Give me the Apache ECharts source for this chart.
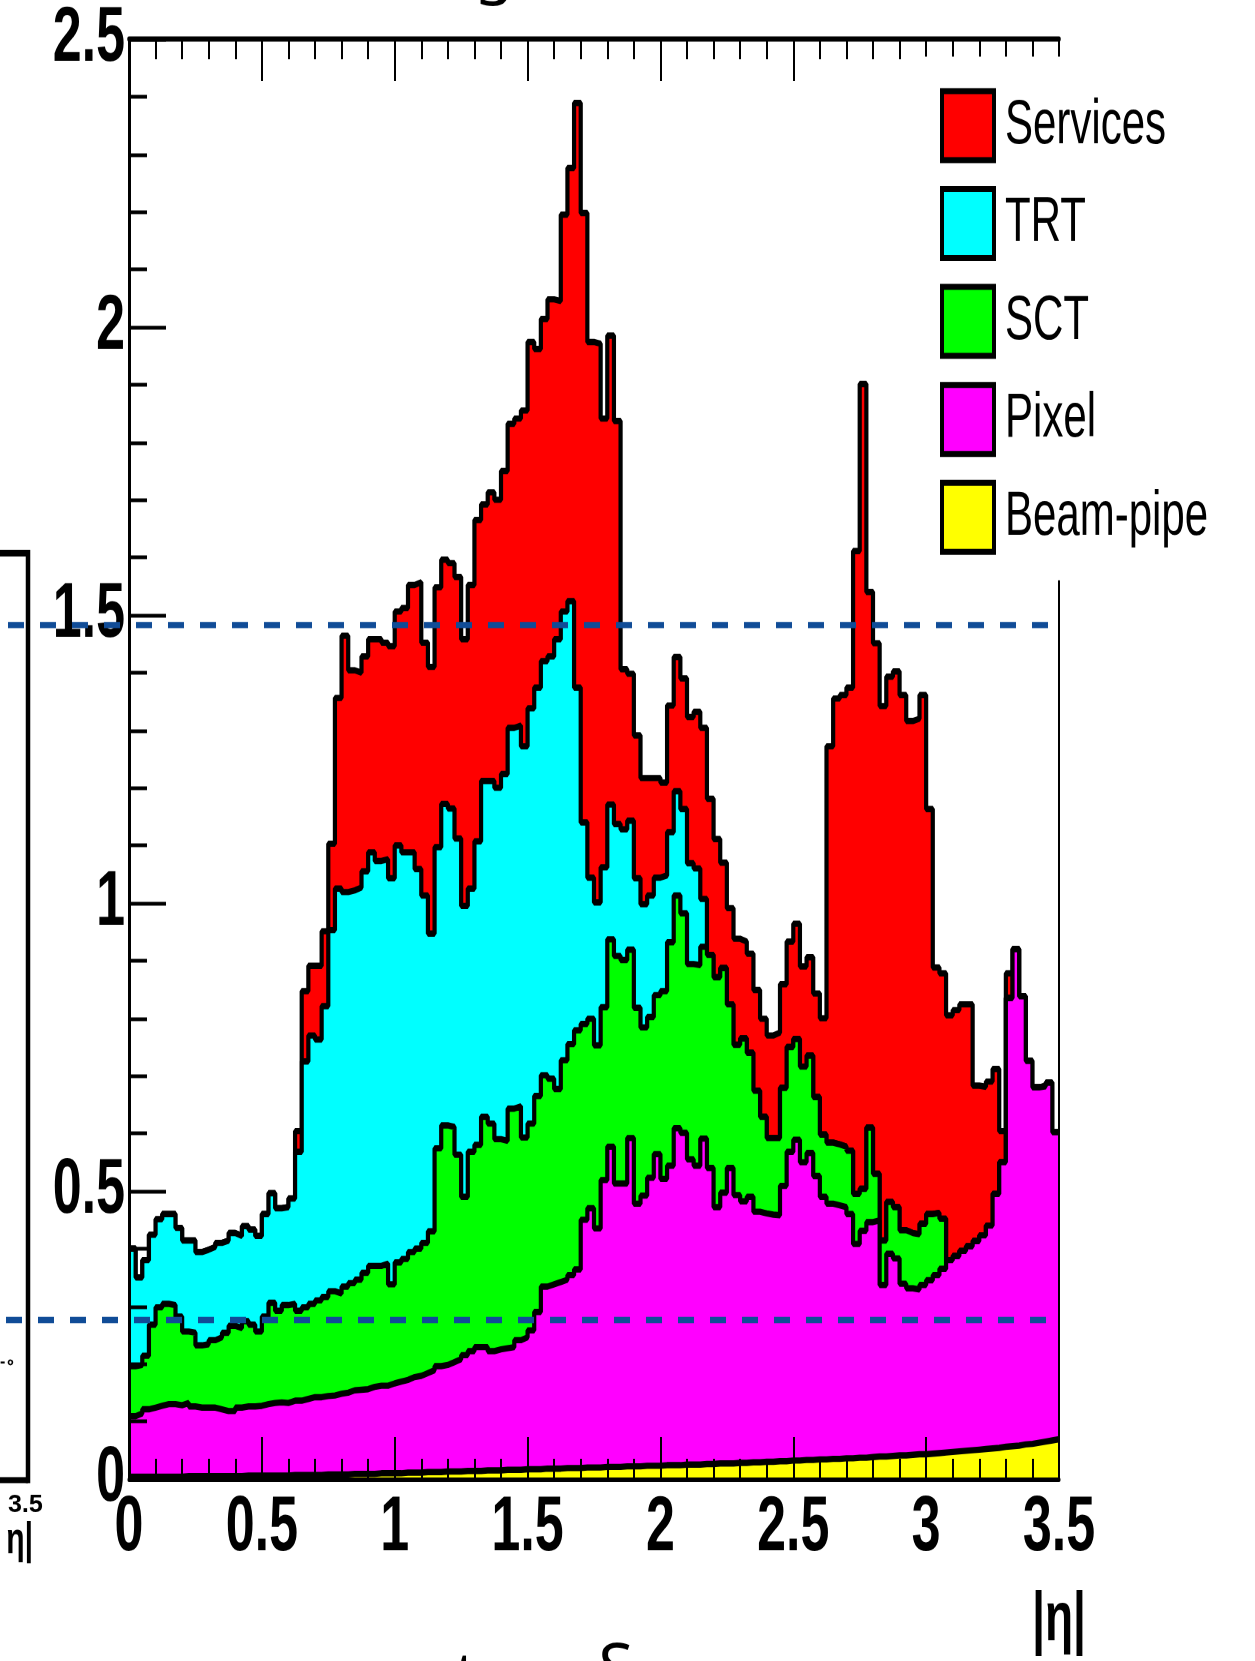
<!DOCTYPE html>
<html>
<head>
<meta charset="utf-8">
<script src="https://cdn.jsdelivr.net/npm/echarts@6/dist/echarts.min.js"></script>
<style>
html,body{margin:0;padding:0;background:#fff;overflow:hidden;width:1255px;height:1661px;}
#chart{width:1255px;height:1107.333px;transform:scaleY(1.5);transform-origin:0 0;}
</style>
</head>
<body>
<div id="chart"></div>
<script>
// ---- data (|eta| histogram, 140 bins of 0.025; each array = top edge of that band in the stacked plot) ----
const BIN_WIDTH = 0.025;
const xTickLabels = ['0','0.5','1','1.5','2','2.5','3','3.5'];
const yTickLabels = ['0','0.5','1','1.5','2','2.5'];
const legendNames = ['Services','TRT','SCT','Pixel','Beam-pipe'];

const servicesTop = [
 0.400,0.350,0.380,0.424,0.451,0.460,0.460,0.436,0.414,0.414,
 0.394,0.398,0.403,0.410,0.414,0.427,0.422,0.439,0.433,0.422,
 0.460,0.496,0.470,0.472,0.487,0.604,0.847,0.891,0.891,0.951,
 1.103,1.356,1.464,1.404,1.400,1.428,1.458,1.458,1.452,1.446,
 1.506,1.512,1.552,1.557,1.452,1.410,1.548,1.596,1.590,1.566,
 1.458,1.552,1.665,1.692,1.713,1.700,1.750,1.832,1.841,1.855,
 1.974,1.962,2.014,2.048,2.045,2.195,2.276,2.389,2.198,1.974,
 1.971,1.841,1.985,1.837,1.406,1.398,1.291,1.217,1.217,1.217,
 1.209,1.343,1.427,1.390,1.323,1.332,1.304,1.181,1.111,1.070,
 0.991,0.938,0.933,0.912,0.849,0.799,0.770,0.775,0.859,0.933,
 0.964,0.890,0.906,0.843,0.800,1.272,1.355,1.361,1.374,1.611,
 1.901,1.540,1.451,1.342,1.393,1.402,1.361,1.316,1.320,1.361,
 1.163,0.888,0.878,0.805,0.814,0.824,0.824,0.683,0.681,0.690,
 0.712,0.604,0.878,0.920,0.838,0.726,0.680,0.682,0.688,0.602
];
const trtTop = [
 0.400,0.350,0.380,0.424,0.451,0.460,0.460,0.436,0.414,0.414,
 0.394,0.398,0.403,0.410,0.414,0.427,0.422,0.439,0.433,0.422,
 0.460,0.496,0.470,0.472,0.487,0.568,0.725,0.770,0.763,0.821,
 0.953,1.025,1.019,1.022,1.027,1.055,1.088,1.073,1.076,1.043,
 1.100,1.088,1.088,1.059,1.013,0.947,1.097,1.172,1.164,1.112,
 0.995,1.025,1.107,1.212,1.212,1.200,1.224,1.304,1.308,1.272,
 1.338,1.374,1.420,1.428,1.458,1.506,1.524,1.374,1.140,1.044,
 1.001,1.062,1.171,1.137,1.128,1.143,1.043,0.998,1.013,1.044,
 1.048,1.123,1.194,1.163,1.069,1.060,1.007,0.910,0.871,0.887,
 0.824,0.754,0.765,0.740,0.674,0.629,0.592,0.592,0.679,0.750,
 0.764,0.716,0.735,0.663,0.598,0.584,0.581,0.577,0.570,0.495,
 0.504,0.610,0.530,0.414,0.481,0.472,0.432,0.427,0.425,0.443,
 0.460,0.462,0.452,0.380,0.387,0.396,0.404,0.413,0.423,0.440,
 0.495,0.550,0.835,0.920,0.838,0.726,0.680,0.682,0.688,0.602
];
const sctTop = [
 0.196,0.198,0.214,0.268,0.298,0.304,0.302,0.282,0.256,0.254,
 0.232,0.234,0.241,0.246,0.254,0.266,0.262,0.274,0.268,0.256,
 0.282,0.306,0.292,0.302,0.304,0.292,0.298,0.304,0.310,0.316,
 0.326,0.322,0.334,0.340,0.346,0.358,0.370,0.370,0.374,0.338,
 0.376,0.382,0.394,0.400,0.410,0.430,0.574,0.614,0.611,0.563,
 0.490,0.568,0.580,0.629,0.617,0.590,0.587,0.643,0.647,0.593,
 0.617,0.665,0.701,0.695,0.677,0.727,0.755,0.779,0.790,0.799,
 0.753,0.819,0.937,0.908,0.901,0.919,0.818,0.784,0.802,0.840,
 0.847,0.932,1.013,0.982,0.894,0.892,0.924,0.910,0.871,0.887,
 0.824,0.754,0.765,0.740,0.674,0.629,0.592,0.592,0.679,0.750,
 0.764,0.716,0.735,0.663,0.598,0.584,0.581,0.577,0.570,0.495,
 0.504,0.610,0.530,0.414,0.481,0.472,0.432,0.427,0.425,0.443,
 0.460,0.462,0.452,0.380,0.387,0.396,0.404,0.413,0.423,0.440,
 0.495,0.550,0.835,0.920,0.838,0.726,0.680,0.682,0.688,0.602
];
const pixelTop = [
 0.109,0.114,0.121,0.124,0.127,0.130,0.130,0.128,0.132,0.126,
 0.124,0.124,0.124,0.121,0.118,0.118,0.124,0.126,0.126,0.127,
 0.130,0.132,0.133,0.132,0.136,0.136,0.139,0.142,0.142,0.144,
 0.145,0.148,0.150,0.154,0.155,0.156,0.160,0.162,0.162,0.166,
 0.169,0.172,0.177,0.179,0.184,0.189,0.196,0.198,0.203,0.208,
 0.215,0.222,0.229,0.229,0.222,0.225,0.227,0.229,0.241,0.246,
 0.258,0.290,0.334,0.338,0.342,0.346,0.354,0.364,0.450,0.470,
 0.435,0.519,0.577,0.513,0.513,0.592,0.478,0.492,0.523,0.564,
 0.521,0.544,0.609,0.601,0.555,0.544,0.591,0.540,0.472,0.497,
 0.540,0.493,0.482,0.490,0.464,0.461,0.459,0.458,0.509,0.568,
 0.589,0.550,0.566,0.526,0.490,0.478,0.475,0.472,0.460,0.408,
 0.431,0.446,0.449,0.337,0.391,0.383,0.339,0.331,0.329,0.337,
 0.345,0.354,0.365,0.380,0.387,0.396,0.404,0.413,0.423,0.440,
 0.495,0.550,0.835,0.920,0.838,0.726,0.680,0.682,0.688,0.602
];
const beamPipeTop = [
 0.004,0.004,0.004,0.004,0.004,0.004,0.004,0.004,0.005,0.005,
 0.005,0.005,0.005,0.005,0.005,0.005,0.005,0.006,0.006,0.006,
 0.006,0.006,0.006,0.006,0.007,0.007,0.007,0.007,0.007,0.008,
 0.008,0.008,0.008,0.009,0.009,0.009,0.009,0.010,0.010,0.010,
 0.010,0.011,0.011,0.011,0.012,0.012,0.012,0.013,0.013,0.013,
 0.014,0.014,0.014,0.015,0.015,0.015,0.016,0.016,0.016,0.017,
 0.017,0.017,0.018,0.018,0.018,0.019,0.019,0.019,0.020,0.020,
 0.020,0.021,0.021,0.021,0.022,0.022,0.022,0.023,0.023,0.023,
 0.024,0.024,0.024,0.025,0.025,0.025,0.026,0.026,0.027,0.027,
 0.027,0.028,0.028,0.029,0.029,0.030,0.030,0.031,0.031,0.032,
 0.032,0.033,0.033,0.034,0.034,0.035,0.035,0.036,0.036,0.037,
 0.037,0.038,0.039,0.039,0.040,0.041,0.041,0.042,0.043,0.043,
 0.044,0.045,0.046,0.047,0.048,0.049,0.050,0.051,0.052,0.053,
 0.054,0.056,0.057,0.058,0.060,0.061,0.063,0.065,0.067,0.069
];

// ---- styling ----
const FONT = '"Liberation Sans", Arial, Helvetica, sans-serif';
const S = 1.5; // vertical stretch of the whole figure (container is CSS-scaled)
const fills = {Services:'#ff0000', TRT:'#00ffff', SCT:'#00ff00', Pixel:'#ff00ff', 'Beam-pipe':'#ffff00'};

function toSteps(vals) {
  const pts = vals.map((v, i) => [+(i * BIN_WIDTH).toFixed(4), v]);
  pts.push([+(vals.length * BIN_WIDTH).toFixed(4), vals[vals.length - 1]]);
  return pts;
}
function band(name, vals, z) {
  return {
    name, type: 'line', step: 'end', data: toSteps(vals),
    symbol: 'none', showSymbol: false, z, silent: true, animation: false,
    itemStyle: {color: fills[name]},
    lineStyle: {color: '#000', width: 4.2},
    areaStyle: {color: fills[name], opacity: 1, origin: 'start'},
    emphasis: {disabled: true}
  };
}

const chart = echarts.init(document.getElementById('chart'), null, {renderer: 'canvas', devicePixelRatio: 2});
const dashStyle = {stroke: '#104c97', lineWidth: 4.2, lineDash: [16, 16]};

chart.setOption({
  animation: false,
  backgroundColor: '#fff',
  grid: {left: 129, right: 196, top: 22.6, bottom: 121, containLabel: false},
  xAxis: [
    {
      type: 'value', min: 0, max: 3.5, interval: 0.5, position: 'bottom', z: 10,
      axisLine: {show: true, onZero: false, lineStyle: {color: '#000', width: 3}},
      axisTick: {show: true, inside: true, length: 28, lineStyle: {color: '#000', width: 2}},
      minorTick: {show: true, splitNumber: 5, length: 13.5, lineStyle: {color: '#000', width: 2}},
      splitLine: {show: false}, minorSplitLine: {show: false},
      axisLabel: {
        show: true, margin: 7, fontSize: 52, fontWeight: 'bold', fontFamily: FONT, color: '#000',
        showMinLabel: true, showMaxLabel: true,
        formatter: v => xTickLabels[Math.round(v / 0.5)]
      },
      name: '|η|', nameLocation: 'end', nameGap: 0,
      nameTextStyle: {fontSize: 46, fontWeight: 'bold', fontFamily: FONT, color: '#000', align: 'center', verticalAlign: 'top', padding: [72, 0, 0, 0]}
    },
    {
      type: 'value', min: 0, max: 3.5, interval: 0.5, position: 'top', z: 10,
      axisLine: {show: true, onZero: false, lineStyle: {color: '#000', width: 3.5}},
      axisTick: {show: true, inside: true, length: 28, lineStyle: {color: '#000', width: 2}},
      minorTick: {show: true, splitNumber: 5, length: 13.5, lineStyle: {color: '#000', width: 2}},
      axisLabel: {show: false}, splitLine: {show: false}
    }
  ],
  yAxis: [
    {
      type: 'value', min: 0, max: 2.5, interval: 0.5, position: 'left', z: 10,
      axisLine: {show: true, onZero: false, lineStyle: {color: '#000', width: 3}},
      axisTick: {show: true, inside: true, length: 37, lineStyle: {color: '#000', width: 2.5}},
      minorTick: {show: true, splitNumber: 5, length: 18, lineStyle: {color: '#000', width: 2.5}},
      splitLine: {show: false}, minorSplitLine: {show: false},
      axisLabel: {
        show: true, margin: 4, fontSize: 52, fontWeight: 'bold', fontFamily: FONT, color: '#000', padding: [22, 0, 0, 0],
        showMinLabel: true, showMaxLabel: true,
        formatter: v => yTickLabels[Math.round(v / 0.5)]
      }
    },
    {
      type: 'value', min: 0, max: 2.5, position: 'right', z: 10,
      axisLine: {show: true, onZero: false, lineStyle: {color: '#000', width: 2}},
      axisTick: {show: false}, axisLabel: {show: false}, splitLine: {show: false}
    }
  ],
  legend: {
    orient: 'vertical', left: 925, top: 37.7, padding: [21, 10, 17, 15],
    backgroundColor: '#fff', itemWidth: 52, itemHeight: 46, itemGap: 15.3,
    icon: 'rect', selectedMode: false, z: 20,
    itemStyle: {borderColor: '#000', borderWidth: 4},
    textStyle: {fontSize: 42, fontFamily: FONT, color: '#000', padding: [0, 0, 0, 6]},
    data: legendNames.map(n => ({name: n, itemStyle: {color: fills[n]}}))
  },
  series: [
    band('Services', servicesTop, 2),
    band('TRT', trtTop, 3),
    band('SCT', sctTop, 4),
    band('Pixel', pixelTop, 5),
    band('Beam-pipe', beamPipeTop, 6)
  ],
  graphic: {
    elements: [
      {type: 'line', z: 30, silent: true, shape: {x1: 8, y1: 416.7, x2: 1050, y2: 416.7}, style: dashStyle},
      {type: 'line', z: 30, silent: true, shape: {x1: 6, y1: 880, x2: 1050, y2: 880}, style: dashStyle},
      {type: 'polyline', z: 30, silent: true, shape: {points: [[0, 368.7], [28, 368.7], [28, 988.7]]}, style: {stroke: '#000', lineWidth: 4.5, fill: null}},
      {type: 'line', z: 30, silent: true, shape: {x1: 0, y1: 986.7, x2: 28, y2: 986.7}, style: {stroke: '#000', lineWidth: 4}},
      {type: 'text', z: 30, silent: true, x: 8, y: 995, scaleY: 1 / S, style: {text: '3.5', fontSize: 25, fontWeight: 'bold', fontFamily: FONT, fill: '#000', verticalAlign: 'top'}},
      {type: 'text', z: 30, silent: true, x: 33, y: 1027, style: {text: 'η|', fontSize: 30, fontWeight: 'bold', fontFamily: FONT, fill: '#000', align: 'right', verticalAlign: 'middle'}},
      {type: 'text', z: 30, silent: true, x: 0, y: 908, scaleY: 1 / S, style: {text: '-∘', fontSize: 16, fontWeight: 'bold', fontFamily: FONT, fill: '#000', verticalAlign: 'middle'}},
      {type: 'text', z: 30, silent: true, x: 494, y: -18.5, scaleY: 1 / S, style: {text: 'g', fontSize: 64, lineHeight: 130, fontFamily: '"Noto Sans", "Open Sans", sans-serif', fill: '#000', align: 'center', verticalAlign: 'middle'}},
      {type: 'text', z: 30, silent: true, x: 466, y: 1120, scaleY: 1 / S, style: {text: 't', fontSize: 64, fontFamily: '"Noto Sans", "Open Sans", sans-serif', fill: '#000', align: 'center', verticalAlign: 'middle'}},
      {type: 'text', z: 30, silent: true, x: 616, y: 1114, scaleY: 1 / S, style: {text: 'S', fontSize: 64, fontFamily: '"Noto Sans", "Open Sans", sans-serif', fill: '#000', align: 'center', verticalAlign: 'middle'}}
    ]
  }
});
</script>
</body>
</html>
